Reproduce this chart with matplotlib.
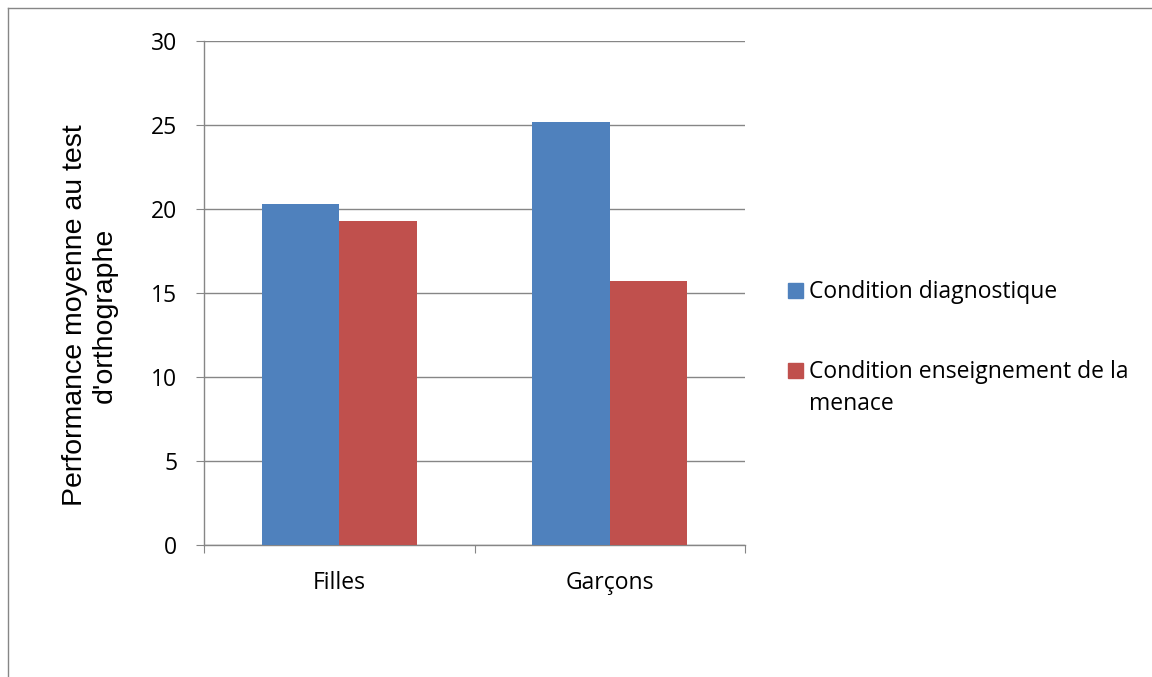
import numpy as np
import matplotlib.pyplot as plt
from matplotlib.patches import Rectangle
from matplotlib.lines import Line2D

groups = ["Filles", "Garçons"]
series_names = ["Condition diagnostique", "Condition enseignement de la\nmenace"]
diagnostique = [20.3, 25.2]
menace = [19.3, 15.7]
colors = ["#4F81BD", "#C0504D"]
yticks = [0, 5, 10, 15, 20, 25, 30]
ylabel = "Performance moyenne au test\nd'orthographe"

W, H = 1152, 677
fig = plt.figure(figsize=(W / 100, H / 100), dpi=100)
fig.patch.set_facecolor("white")

def fx(px): return px / W
def fy(py): return 1 - py / H

# plot area in pixels: x 204..745, y 41..545
ax = fig.add_axes([fx(204), fy(545), fx(745) - fx(204), fy(41) - fy(545)])

x = np.arange(len(groups))
bw = 1 / 3.5  # gap width 150%
ax.bar(x - bw / 2, diagnostique, bw, color=colors[0], zorder=3)
ax.bar(x + bw / 2, menace, bw, color=colors[1], zorder=3)

ax.set_xlim(-0.5, len(groups) - 0.5)
ax.set_ylim(0, 30)
ax.set_yticks(yticks)
ax.yaxis.grid(True, color="#868686", linewidth=1, zorder=0)
ax.set_axisbelow(True)

for s in ["top", "right"]:
    ax.spines[s].set_visible(False)
for s in ["left", "bottom"]:
    ax.spines[s].set_color("#868686")
    ax.spines[s].set_linewidth(1)

tick_font = dict(fontfamily="Open Sans", fontsize=16.5)

# major ticks on category boundaries, labels centred on categories
ax.set_xticks([-0.5, 0.5, 1.5])
ax.set_xticklabels([])
ax.set_xticks(x, minor=True)
ax.set_xticklabels(groups, minor=True, **tick_font)
ax.tick_params(axis="x", which="major", length=5.8, color="#868686", direction="out")
ax.tick_params(axis="x", which="minor", length=0, pad=18.5)
ax.tick_params(axis="y", length=5.8, color="#868686", direction="out", pad=13.5)
for lbl in ax.get_yticklabels():
    lbl.set_fontfamily("Open Sans")
    lbl.set_fontsize(16.5)

fig.text(fx(90), fy(315), ylabel, rotation=90, ha="center", va="center",
         multialignment="center", fontfamily="Liberation Sans", fontsize=20.5,
         linespacing=1.15)

# legend drawn by hand: square + text, one baseline per line
legend_tops = [283, 363]
for name, c, top in zip(series_names, colors, legend_tops):
    fig.patches.append(Rectangle((fx(788), fy(top + 15)), fx(15), 15 / H,
                                 transform=fig.transFigure, color=c))
    for i, line in enumerate(name.split("\n")):
        fig.text(fx(809), fy(top + 15 + 32 * i), line, ha="left", va="baseline",
                 **tick_font)

# outer frame
fig.add_artist(Line2D([fx(8), 1], [fy(8), fy(8)], color="#868686", linewidth=1,
                      transform=fig.transFigure))
fig.add_artist(Line2D([fx(8), fx(8)], [fy(8), 0], color="#868686", linewidth=1,
                      transform=fig.transFigure))

fig.savefig("out.png", dpi=100)
